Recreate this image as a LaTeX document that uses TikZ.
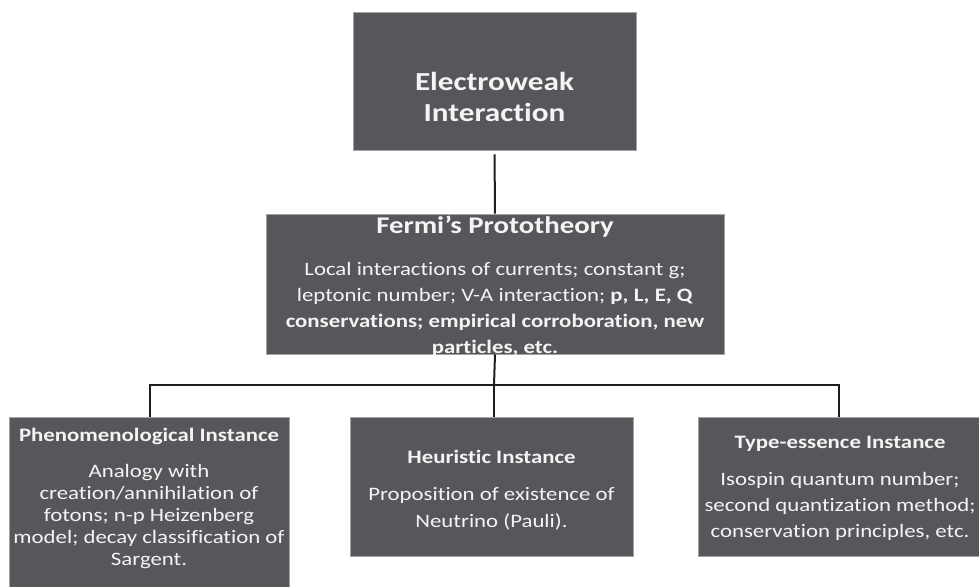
\documentclass[tikz,border=0pt]{standalone}
\usepackage{fontspec}
\setmainfont{Carlito}[FakeStretch=1.2, Ligatures=NoCommon]
\definecolor{boxfill}{HTML}{57565B}
\definecolor{boxedge}{HTML}{A3A3A6}
\definecolor{boxtext}{HTML}{F4F4F4}
\definecolor{wire}{HTML}{1E1E1E}
\tikzset{
  box/.style={rectangle, fill=boxfill, draw=boxedge, line width=0.8pt, inner sep=0pt},
  boxlabel/.style={text=boxtext, align=center, inner sep=0pt},
  bigtitle/.style={boxlabel, font=\fontsize{24}{31}\selectfont\bfseries},
  smalltitle/.style={boxlabel, font=\fontsize{19}{22}\selectfont\bfseries},
  wirestyle/.style={draw=wire, line width=2pt}
}
\begin{document}
\begin{tikzpicture}[x=1pt, y=-1pt]
\useasboundingbox (0,0) rectangle (979,586);

% boxes
\node[box, minimum width=283pt, minimum height=138pt] (ew) at (494.5,81) {};
\node[box, minimum width=458pt, minimum height=140pt] (fermi) at (495,284) {};
\node[box, minimum width=280pt, minimum height=183pt] (phen) at (149,508.5) {};
\node[box, minimum width=283pt, minimum height=139pt] (heur) at (491.5,486.5) {};
\node[box, minimum width=287pt, minimum height=139pt] (type) at (841.5,486.5) {};

% connectors
\coordinate (hub) at (494,385);
\coordinate (jl) at (150,385);
\coordinate (jr) at (839,385);
\draw[wirestyle, shorten <=4pt] (ew.south) -- (fermi.north);
\draw[wirestyle] (fermi.south) -- (hub);
\draw[wirestyle, line cap=rect] (jl) -- (jr);
\draw[wirestyle] (jl) -- (jl |- phen.north);
\draw[wirestyle] (hub) -- (hub |- heur.north);
\draw[wirestyle] (jr) -- (jr |- type.north);

% texts
\node[bigtitle, font=\fontsize{26}{31}\selectfont\bfseries] (ewt) at (494.5,96.5) {Electroweak\\Interaction};

\node[bigtitle] (fermit) at (495,227) {Fermi’s Prototheory};
\node[boxlabel, font=\fontsize{19}{26}\selectfont] (fermib) at (495,309)
  {Local interactions of currents; constant g;\\
   leptonic number; V-A interaction; \textbf{p, L, E, Q}\\
   \textbf{conservations; empirical corroboration, new}\\
   \textbf{particles, etc.}};

\node[smalltitle] (phent) at (149,436) {Phenomenological Instance};
\node[boxlabel, font=\fontsize{19}{22}\selectfont] (phenb) at (149,517)
  {Analogy with\\
   creation/annihilation of\\
   fotons; n-p Heizenberg\\
   model; decay classification of\\
   Sargent.};

\node[smalltitle] (heurt) at (491.5,457) {Heuristic Instance};
\node[boxlabel, font=\fontsize{19}{27}\selectfont] (heurb) at (491.5,509)
  {Proposition of existence of\\
   Neutrino (Pauli).};

\node[smalltitle] (typet) at (840,444) {Type-essence Instance};
\node[boxlabel, font=\fontsize{19}{26}\selectfont] (typeb) at (840,506)
  {Isospin quantum number;\\
   second quantization method;\\
   conservation principles, etc.};
\end{tikzpicture}
\end{document}
